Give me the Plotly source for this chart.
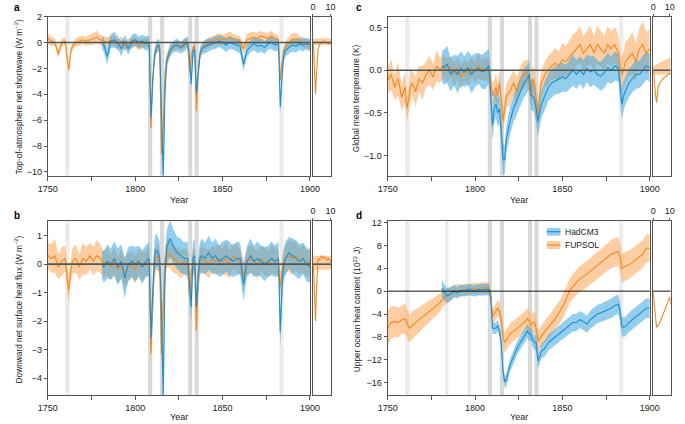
import plotly.graph_objects as go

# ---------------- data ----------------
YEARS_F = [1750,1752,1754,1756,1758,1760,1761,1762,1763,1764,
           1766,1768,1770,1772,1774,1776,1778,1780,1782,1784,
           1786,1788,1790,1792,1794,1796,1798,1800,1802,1804,
           1806,1808,1809,1810,1811,1812,1813,1814,1815,1816,
           1817,1818,1820,1822,1824,1826,1828,1830,1831,1832,
           1833,1834,1835,1836,1837,1838,1840,1842,1844,1846,
           1848,1850,1852,1854,1856,1858,1860,1862,1864,1866,
           1868,1870,1872,1874,1876,1878,1880,1882,1883,1884,
           1885,1886,1888,1890,1892,1894,1896,1898,1900]
YEARS_H = [1781,1782,1784,1786,1788,1790,1792,1794,1796,1798,
           1800,1802,1804,1806,1808,1809,1810,1811,1812,1813,
           1814,1815,1816,1817,1818,1820,1822,1824,1826,1828,
           1830,1831,1832,1833,1834,1835,1836,1837,1838,1840,
           1842,1844,1846,1848,1850,1852,1854,1856,1858,1860,
           1862,1864,1866,1868,1870,1872,1874,1876,1878,1880,
           1882,1883,1884,1885,1886,1888,1890,1892,1894,1896,
           1898,1900]

# (a) TOA net shortwave
SW_FUPSOL = [0.3,0.1,0.0,-0.9,0.0,0.1,-1.2,-2.1,-0.8,-0.3,
             0.0,0.1,0.2,0.1,0.2,0.3,0.4,0.2,0.1,0.0,
             0.2,0.1,-0.2,0.1,-0.3,0.0,-0.1,0.1,-0.2,-0.1,
             0.0,0.0,-6.6,-3.0,-1.2,-0.6,-0.3,-0.5,-8.6,-6.5,
             -2.5,-1.2,-0.6,-0.3,-0.2,-0.3,-0.1,0.0,-2.3,-1.2,
             -0.4,-0.3,-5.3,-2.5,-1.0,-0.5,-0.2,0.0,0.1,0.2,
             0.3,0.2,0.3,0.4,0.3,0.2,0.1,-0.5,0.2,0.3,
             0.4,0.3,0.5,0.4,0.3,0.5,0.3,0.2,-2.9,-1.5,
             -0.6,-0.3,0.0,0.2,0.3,0.1,0.0,-0.1,-0.2]
SW_FUPSOL_HW = [0.4,0.35,0.3,0.35,0.3,0.3,0.35,0.4,0.35,0.3,
                0.3,0.35,0.3,0.35,0.4,0.45,0.5,0.4,0.35,0.4,
                0.35,0.4,0.45,0.35,0.4,0.35,0.4,0.35,0.4,0.35,
                0.35,0.4,0.45,0.4,0.35,0.35,0.3,0.35,0.45,0.4,
                0.4,0.35,0.35,0.3,0.35,0.3,0.35,0.35,0.4,0.35,
                0.35,0.3,0.4,0.35,0.35,0.3,0.35,0.4,0.35,0.4,
                0.45,0.35,0.4,0.45,0.35,0.4,0.35,0.4,0.45,0.5,
                0.4,0.45,0.4,0.35,0.45,0.4,0.35,0.4,0.4,0.35,
                0.35,0.4,0.45,0.5,0.45,0.4,0.4,0.35,0.35]
SW_HAD = [0.0,-0.2,-1.1,0.1,0.2,0.0,-0.5,0.1,-0.5,0.1,
          0.2,0.0,0.1,-0.1,0.0,-5.8,-3.0,-1.0,-0.4,-0.2,
          -0.3,-5.0,-10.3,-4.0,-1.5,-0.6,-0.3,-0.2,-0.4,-0.2,
          0.0,-1.0,-3.2,-0.8,-0.5,-3.9,-2.0,-0.9,-0.5,-0.3,
          -0.2,-0.1,0.0,0.1,0.0,-0.2,0.0,-0.1,-0.2,-0.3,
          -1.7,-0.6,-0.3,-0.1,-0.3,-0.2,-0.4,-0.1,0.0,-0.2,
          -0.1,-5.0,-2.6,-1.0,-0.6,-0.4,-0.2,-0.3,-0.1,-0.2,
          -0.1,-0.2]
SW_HAD_HW = [0.5,0.55,0.6,0.55,0.6,0.5,0.55,0.5,0.45,0.5,
             0.5,0.45,0.5,0.55,0.5,0.5,0.45,0.5,0.45,0.5,
             0.45,0.5,0.5,0.5,0.45,0.5,0.45,0.5,0.45,0.5,
             0.45,0.5,0.5,0.45,0.5,0.5,0.45,0.5,0.45,0.5,
             0.5,0.45,0.5,0.45,0.5,0.55,0.5,0.45,0.5,0.55,
             0.5,0.5,0.45,0.5,0.55,0.5,0.5,0.45,0.5,0.5,
             0.5,0.5,0.5,0.45,0.5,0.45,0.5,0.5,0.45,0.5,
             0.45,0.5]

# (b) downward net surface heat flux
SF_FUPSOL = [0.3,0.2,0.3,-0.1,0.1,0.2,-0.5,-0.9,-0.3,0.1,
             0.2,-0.1,0.2,0.1,0.3,0.1,0.3,0.2,0.0,0.1,
             -0.1,0.1,-0.2,0.0,-0.3,-0.1,0.0,-0.2,0.1,-0.1,
             0.0,0.1,-3.15,-1.2,0.0,0.2,0.3,0.0,-3.15,-1.5,
             0.2,0.4,0.3,0.2,0.1,0.0,0.1,0.0,-1.1,-0.3,
             0.1,0.0,-2.35,-0.6,0.1,0.2,0.1,0.0,0.2,0.1,
             0.2,0.1,0.2,0.0,0.3,0.2,0.1,-0.4,0.1,0.2,
             0.1,0.0,0.2,0.1,0.0,0.2,0.1,0.0,-0.8,-0.2,
             0.1,0.2,0.3,0.2,0.3,0.1,0.2,0.0,0.1]
SF_FUPSOL_HW = [0.45,0.5,0.6,0.45,0.5,0.45,0.5,0.45,0.4,0.45,
                0.5,0.45,0.55,0.5,0.45,0.5,0.55,0.5,0.45,0.5,
                0.45,0.5,0.45,0.5,0.55,0.5,0.45,0.5,0.45,0.5,
                0.45,0.5,0.5,0.45,0.5,0.45,0.5,0.45,0.5,0.5,
                0.45,0.5,0.45,0.5,0.45,0.5,0.45,0.5,0.45,0.5,
                0.45,0.5,0.45,0.5,0.45,0.5,0.45,0.5,0.45,0.5,
                0.5,0.45,0.6,0.5,0.45,0.5,0.45,0.5,0.45,0.5,
                0.45,0.5,0.45,0.5,0.45,0.5,0.45,0.5,0.45,0.5,
                0.45,0.5,0.55,0.6,0.5,0.45,0.5,0.45,0.5]
SF_HAD = [0.0,-0.1,0.1,0.0,0.2,-0.1,0.1,-0.5,0.0,0.1,
          0.0,0.1,-0.1,0.1,0.2,-2.6,-1.0,0.3,0.5,0.4,
          0.2,-1.5,-4.6,-0.5,0.6,0.9,0.6,0.4,0.3,0.2,
          0.2,-0.6,-1.5,0.2,0.3,-1.5,-0.4,0.2,0.3,0.2,
          0.4,0.2,0.3,0.1,0.2,0.3,0.2,0.1,0.2,0.2,
          -0.7,0.1,0.3,0.1,0.2,0.1,0.0,0.1,0.2,0.1,
          0.2,-2.4,-0.8,0.0,0.2,0.4,0.3,0.2,0.1,0.2,
          0.0,-0.1]
SF_HAD_HW = [0.5,0.55,0.6,0.55,0.6,0.65,0.6,0.7,0.6,0.55,
             0.6,0.55,0.6,0.55,0.6,0.55,0.6,0.55,0.6,0.55,
             0.6,0.55,0.6,0.55,0.6,0.65,0.6,0.55,0.6,0.55,
             0.6,0.55,0.6,0.55,0.6,0.55,0.6,0.55,0.6,0.55,
             0.6,0.55,0.6,0.55,0.6,0.55,0.6,0.55,0.6,0.55,
             0.6,0.55,0.6,0.55,0.6,0.55,0.6,0.55,0.6,0.55,
             0.6,0.55,0.6,0.55,0.6,0.55,0.6,0.65,0.6,0.55,
             0.6,0.55]

# (c) global mean temperature
T_FUPSOL = [-0.12,-0.05,-0.2,-0.1,-0.32,-0.2,-0.45,-0.35,-0.2,-0.15,
            -0.25,-0.1,-0.15,-0.05,0.0,-0.08,0.05,0.0,0.05,0.0,
            0.04,-0.05,0.02,-0.08,0.0,-0.05,0.03,-0.02,0.05,0.0,
            0.02,0.0,-0.15,-0.3,-0.25,-0.2,-0.3,-0.15,-0.35,-0.6,
            -0.45,-0.3,-0.25,-0.15,-0.25,-0.1,-0.05,-0.02,-0.15,-0.3,
            -0.1,-0.15,-0.35,-0.55,-0.3,-0.15,-0.05,0.0,0.05,0.08,
            0.05,0.12,0.1,0.15,0.2,0.25,0.3,0.2,0.25,0.3,
            0.2,0.3,0.25,0.2,0.3,0.25,0.3,0.2,0.05,-0.05,
            0.0,0.1,0.15,0.2,0.1,0.25,0.3,0.2,0.25]
T_FUPSOL_HW = [0.15,0.18,0.15,0.2,0.15,0.18,0.15,0.17,0.2,0.15,
               0.18,0.15,0.2,0.15,0.17,0.15,0.18,0.15,0.13,0.15,
               0.12,0.15,0.13,0.15,0.12,0.14,0.12,0.13,0.15,0.12,
               0.14,0.13,0.15,0.15,0.14,0.16,0.15,0.14,0.16,0.15,
               0.15,0.14,0.16,0.15,0.17,0.15,0.16,0.15,0.16,0.15,
               0.16,0.15,0.17,0.16,0.15,0.16,0.15,0.17,0.16,0.18,
               0.17,0.2,0.18,0.2,0.22,0.2,0.22,0.2,0.21,0.22,
               0.2,0.22,0.21,0.2,0.22,0.2,0.21,0.22,0.2,0.2,
               0.21,0.23,0.22,0.25,0.22,0.24,0.28,0.25,0.23]
T_HAD = [0.05,0.03,0.07,-0.05,0.0,-0.05,0.02,-0.02,0.03,-0.05,
         0.0,0.02,-0.02,0.0,0.05,-0.3,-0.65,-0.45,-0.4,-0.5,
         -0.45,-0.7,-1.05,-1.05,-0.8,-0.6,-0.45,-0.35,-0.25,-0.15,
         -0.1,-0.05,-0.3,-0.3,-0.35,-0.45,-0.6,-0.5,-0.4,-0.3,
         -0.2,-0.15,-0.12,-0.1,-0.08,-0.1,-0.05,0.0,-0.05,0.0,
         -0.05,0.02,-0.02,0.0,-0.05,-0.07,-0.03,0.03,0.0,0.05,
         0.03,-0.2,-0.4,-0.3,-0.25,-0.15,-0.1,-0.05,-0.05,0.0,
         0.05,0.03]
T_HAD_HW = [0.18,0.2,0.22,0.2,0.18,0.22,0.2,0.18,0.2,0.22,
            0.2,0.18,0.2,0.22,0.2,0.2,0.18,0.17,0.16,0.17,
            0.16,0.17,0.18,0.17,0.16,0.17,0.16,0.17,0.16,0.17,
            0.16,0.17,0.18,0.17,0.16,0.17,0.18,0.17,0.16,0.17,
            0.16,0.17,0.16,0.18,0.17,0.16,0.17,0.18,0.17,0.16,
            0.17,0.16,0.18,0.17,0.16,0.17,0.18,0.17,0.16,0.17,
            0.16,0.17,0.18,0.17,0.16,0.17,0.16,0.17,0.16,0.17,
            0.16,0.17]

# (d) upper ocean heat content (10^22 J)
OHC_FUPSOL = [-6.5,-5.5,-5.3,-5.5,-5.0,-4.8,-5.5,-6.3,-6.5,-6.0,
              -5.5,-5.0,-4.5,-4.0,-3.5,-3.0,-2.5,-2.0,-1.2,-0.8,
              -0.5,0.0,0.2,0.0,0.3,0.2,0.4,0.5,0.3,0.6,
              0.5,0.6,-0.5,-4.5,-4.0,-3.5,-3.0,-3.5,-5.0,-8.0,
              -9.0,-8.5,-7.5,-7.0,-6.5,-6.0,-5.5,-4.8,-5.2,-6.0,
              -5.5,-5.5,-6.5,-8.8,-8.3,-7.8,-7.0,-6.3,-5.6,-4.8,
              -3.8,-2.8,-1.5,0.0,0.8,1.5,2.2,2.5,3.0,3.5,
              4.0,4.5,5.0,5.5,6.0,6.5,6.7,7.0,6.0,4.0,
              4.2,4.3,4.6,5.0,5.5,6.0,6.5,7.5,7.5]
OHC_FUPSOL_HW = [3.0,2.8,2.7,2.6,2.5,2.6,2.5,2.5,2.4,2.4,
                 2.3,2.2,2.1,2.0,1.9,1.8,1.7,1.6,1.4,1.3,
                 1.2,1.1,1.1,1.0,1.0,1.0,1.0,1.0,1.0,1.0,
                 1.0,1.0,1.1,1.3,1.4,1.5,1.5,1.5,1.6,1.7,
                 1.8,1.8,1.8,1.8,1.8,1.8,1.8,1.8,1.8,1.8,
                 1.8,1.8,1.8,1.8,1.8,1.8,1.9,1.9,2.0,2.0,
                 2.0,2.1,2.1,2.1,2.2,2.2,2.2,2.3,2.3,2.3,
                 2.3,2.4,2.4,2.4,2.4,2.5,2.5,2.5,2.5,2.5,
                 2.5,2.5,2.5,2.5,2.5,2.4,2.4,2.4,2.4]
OHC_HAD = [0.5,0.0,-0.8,-0.5,0.0,-0.3,0.2,0.0,0.3,0.2,
           0.0,0.3,0.2,0.3,0.3,-1.0,-6.5,-6.5,-6.5,-6.0,
           -7.0,-9.0,-14.0,-15.9,-15.5,-13.0,-11.5,-10.0,-9.0,-8.0,
           -7.0,-7.5,-7.5,-8.5,-9.0,-9.0,-12.2,-11.5,-10.5,-10.0,
           -9.0,-8.5,-8.0,-7.5,-7.0,-6.5,-6.0,-5.5,-5.5,-5.0,
           -5.3,-5.8,-5.0,-4.5,-4.0,-3.8,-3.5,-3.3,-3.0,-2.5,
           -2.3,-3.5,-6.2,-6.3,-6.2,-5.5,-5.0,-4.5,-4.0,-3.5,
           -3.0,-3.0]
OHC_HAD_HW = [1.5,1.4,1.3,1.2,1.1,1.0,1.0,1.0,1.0,1.0,
              1.0,1.0,1.0,1.0,1.0,1.0,1.0,1.0,1.0,1.0,
              1.0,1.0,1.0,1.1,1.1,1.1,1.2,1.2,1.2,1.2,
              1.2,1.2,1.2,1.3,1.3,1.3,1.3,1.3,1.3,1.4,
              1.4,1.4,1.4,1.4,1.5,1.5,1.5,1.5,1.5,1.5,
              1.5,1.5,1.6,1.6,1.6,1.6,1.6,1.6,1.7,1.7,
              1.7,1.7,1.7,1.7,1.7,1.7,1.7,1.7,1.7,1.7,
              1.7,1.7]

# insets: composite response, years after eruption (FUPSOL)
INSET_X = [0,0.5,1,1.5,2,2.5,3,4,5,6,7,8,9,10,10.5]
SW_INSET = [0,-0.5,-2.5,-4.0,-2.5,-1.2,-0.5,-0.1,0.0,0.1,0.0,0.0,-0.1,-0.1,-0.1]
SW_INSET_LO = [-0.2,-0.2,-0.25,-0.2,-0.2,-0.25,-0.2,-0.2,-0.25,-0.2,-0.2,-0.2,-0.25,-0.2,-0.2]
SW_INSET_HI = [0.3,0.3,0.25,0.3,0.3,0.3,0.25,0.3,0.3,0.35,0.3,0.3,0.3,0.35,0.3]
SF_INSET = [0,-0.3,-1.2,-2.0,-1.0,0.0,0.2,0.15,0.3,0.2,0.25,0.15,0.2,0.1,0.05]
SF_INSET_LO = [-0.2,-0.2,-0.2,-0.2,-0.2,-0.2,-0.2,-0.2,-0.2,-0.2,-0.2,-0.2,-0.2,-0.2,-0.2]
SF_INSET_HI = [0.3,0.3,0.3,0.3,0.3,0.3,0.3,0.3,0.3,0.3,0.3,0.3,0.3,0.3,0.3]
T_INSET = [0,-0.05,-0.2,-0.33,-0.38,-0.3,-0.2,-0.15,-0.12,-0.1,-0.08,-0.07,-0.05,-0.04,-0.03]
T_INSET_LO = [-0.05,-0.05,-0.05,-0.05,-0.05,-0.05,-0.05,-0.05,-0.05,-0.05,-0.05,-0.05,-0.05,-0.05,-0.05]
T_INSET_HI = [0.05,0.05,0.06,0.06,0.07,0.07,0.08,0.09,0.1,0.11,0.12,0.13,0.14,0.15,0.15]
OHC_INSET = [0,-1.5,-3.5,-5.5,-6.3,-6.2,-6.0,-5.5,-4.8,-4.0,-3.3,-2.5,-1.5,-1.0,-2.3]

# volcanic eruption bands
ERUPT_START = [1760.0, 1782.8, 1795.7, 1807.3, 1814.2, 1830.3, 1834.0, 1882.5]
ERUPT_END   = [1762.4, 1784.8, 1797.8, 1809.7, 1816.6, 1832.6, 1836.3, 1884.9]
ERUPT_STRONG = [False, False, False, True, True, True, True, False]
ERUPT_IN_ALL = [True, False, False, True, True, True, True, True]

X_TICKS = [1750, 1800, 1850, 1900]
X_MINOR_TICKS = [1775, 1825, 1875]

# ---------------- styling ----------------
W, H = 685, 424
FONT = 'Liberation Sans, Arial, sans-serif'
BLUE = '#1a8fd0'
ORANGE = '#f08a1e'
BLUE_BAND = 'rgba(60,165,225,0.55)'
ORANGE_BAND = 'rgba(253,172,98,0.6)'
AX = '#555555'
TXT = '#222222'

def px_x(p):
    return p / W

def px_y(p):
    return 1 - p / H

XM_L = [px_x(39), px_x(309)]
XI_L = [px_x(312), px_x(331)]
XM_R = [px_x(389), px_x(659)]
XI_R = [px_x(662.5), px_x(680.5)]
Y_TOP = [px_y(173.3), px_y(11.7)]
Y_BOT = [px_y(395.7), px_y(219)]

panels = [
    dict(main=1, inset=5, xd=XM_L, xi=XI_L, yd=Y_TOP, yr=[-10.3, 2.0],
         yt=[2, 0, -2, -4, -6, -8, -10], ytt=None,
         f=SW_FUPSOL, fhw=SW_FUPSOL_HW, h=SW_HAD, hhw=SW_HAD_HW,
         ins=SW_INSET, ilo=SW_INSET_LO, ihi=SW_INSET_HI, all_bands=False,
         zc=AX, zw=1.6),
    dict(main=2, inset=6, xd=XM_L, xi=XI_L, yd=Y_BOT, yr=[-4.6, 1.52],
         yt=[1, 0, -1, -2, -3, -4], ytt=None,
         f=SF_FUPSOL, fhw=SF_FUPSOL_HW, h=SF_HAD, hhw=SF_HAD_HW,
         ins=SF_INSET, ilo=SF_INSET_LO, ihi=SF_INSET_HI, all_bands=False,
         zc=AX, zw=1.6),
    dict(main=3, inset=7, xd=XM_R, xi=XI_R, yd=Y_TOP, yr=[-1.24, 0.63],
         yt=[0.5, 0, -0.5, -1.0], ytt=['0.5', '0.0', '\u22120.5', '\u22121.0'],
         f=T_FUPSOL, fhw=T_FUPSOL_HW, h=T_HAD, hhw=T_HAD_HW,
         ins=T_INSET, ilo=T_INSET_LO, ihi=T_INSET_HI, all_bands=False,
         zc=AX, zw=1.6),
    dict(main=4, inset=8, xd=XM_R, xi=XI_R, yd=Y_BOT, yr=[-18.2, 12.3],
         yt=[12, 8, 4, 0, -4, -8, -12, -16], ytt=None,
         f=OHC_FUPSOL, fhw=OHC_FUPSOL_HW, h=OHC_HAD, hhw=OHC_HAD_HW,
         ins=OHC_INSET, ilo=None, ihi=None, all_bands=True,
         zc='#111111', zw=1.0),
]

fig = go.Figure()
shapes = []

def ax_name(i, kind):
    return kind if i == 1 else f'{kind}{i}'

def band_trace(xs, lo, hi, color, xa, ya):
    return go.Scatter(x=list(xs) + list(xs)[::-1], y=list(hi) + list(lo)[::-1],
                      fill='toself', fillcolor=color, mode='lines',
                      line=dict(width=0), hoverinfo='skip', showlegend=False,
                      xaxis=xa, yaxis=ya)

layout_axes = {}
for p in panels:
    m, i = p['main'], p['inset']
    xa, ya = ax_name(m, 'x'), ax_name(m, 'y')
    xi, yi = ax_name(i, 'x'), ax_name(i, 'y')
    assert len(p['f']) == len(YEARS_F) == len(p['fhw'])
    assert len(p['h']) == len(YEARS_H) == len(p['hhw'])

    f_lo = [v - w for v, w in zip(p['f'], p['fhw'])]
    f_hi = [v + w for v, w in zip(p['f'], p['fhw'])]
    h_lo = [v - w for v, w in zip(p['h'], p['hhw'])]
    h_hi = [v + w for v, w in zip(p['h'], p['hhw'])]
    fig.add_trace(band_trace(YEARS_F, f_lo, f_hi, ORANGE_BAND, xa, ya))
    fig.add_trace(band_trace(YEARS_H, h_lo, h_hi, BLUE_BAND, xa, ya))
    fig.add_trace(go.Scatter(x=YEARS_F, y=p['f'], mode='lines',
                             line=dict(color=ORANGE, width=1.1),
                             hoverinfo='skip', showlegend=False, xaxis=xa, yaxis=ya))
    fig.add_trace(go.Scatter(x=YEARS_H, y=p['h'], mode='lines',
                             line=dict(color=BLUE, width=1.1),
                             hoverinfo='skip', showlegend=False, xaxis=xa, yaxis=ya))
    # inset
    if p['ilo'] is not None:
        fig.add_trace(band_trace(INSET_X, p['ilo'], p['ihi'], ORANGE_BAND, xi, yi))
    fig.add_trace(go.Scatter(x=INSET_X, y=p['ins'], mode='lines',
                             line=dict(color=ORANGE, width=1.1),
                             hoverinfo='skip', showlegend=False, xaxis=xi, yaxis=yi))

    # eruption bands
    for s, e, strong, inall in zip(ERUPT_START, ERUPT_END, ERUPT_STRONG, ERUPT_IN_ALL):
        if not inall and not p['all_bands']:
            continue
        shapes.append(dict(type='rect', xref=xa, yref=f'{ya} domain', x0=s, x1=e,
                           y0=0, y1=1, fillcolor='#d9d9d9' if strong else '#ebebeb',
                           line=dict(width=0), layer='below'))
    # zero lines
    for xr, yr in ((xa, ya), (xi, yi)):
        shapes.append(dict(type='line', xref=f'{xr} domain', yref=yr, x0=0, x1=1,
                           y0=0, y1=0, line=dict(color=p['zc'], width=p['zw']),
                           layer='above'))

    common = dict(showline=True, mirror=True, linecolor=AX, linewidth=1,
                  showgrid=False, zeroline=False, tickcolor=AX,
                  tickfont=dict(family=FONT, size=9, color=TXT))
    layout_axes['xaxis' if m == 1 else f'xaxis{m}'] = dict(
        common, domain=p['xd'], anchor=ya, range=[1750, 1900], tickmode='array',
        tickvals=X_TICKS, ticks='outside', ticklen=4,
        minor=dict(tickmode='array', tickvals=X_MINOR_TICKS, ticks='outside',
                   ticklen=4, tickcolor=AX, showgrid=False))
    layout_axes[f'yaxis{m}' if m != 1 else 'yaxis'] = dict(
        common, domain=p['yd'], anchor=xa, range=p['yr'], tickmode='array',
        tickvals=p['yt'], ticktext=p['ytt'] if p['ytt'] else None,
        ticks='outside', ticklen=3)
    layout_axes[f'xaxis{i}'] = dict(
        common, domain=p['xi'], anchor=yi, range=[0, 10.5], side='top',
        tickmode='array', tickvals=[0, 10], ticks='outside', ticklen=2)
    layout_axes[f'yaxis{i}'] = dict(
        common, domain=p['yd'], anchor=xi, range=p['yr'], showticklabels=False,
        ticks='')

# legend (panel d)
LEGEND_NAMES = ['HadCM3', 'FUPSOL']
legend_rows = [(226.0, 234.0, BLUE_BAND, BLUE), (239.5, 247.5, ORANGE_BAND, ORANGE)]
annotations = []
for name, (t, b, bc, lc) in zip(LEGEND_NAMES, legend_rows):
    shapes.append(dict(type='rect', xref='paper', yref='paper', x0=px_x(553), x1=px_x(567),
                       y0=px_y(b), y1=px_y(t), fillcolor=bc, line=dict(width=0), layer='above'))
    shapes.append(dict(type='line', xref='paper', yref='paper', x0=px_x(553), x1=px_x(567),
                       y0=px_y((t + b) / 2), y1=px_y((t + b) / 2),
                       line=dict(color=lc, width=1.2), layer='above'))
    annotations.append(dict(text=name, xref='paper', yref='paper', x=px_x(570),
                            y=px_y((t + b) / 2), xanchor='left', yanchor='middle',
                            showarrow=False, font=dict(family=FONT, size=8.5, color=TXT)))

# panel letters
for letter, x, y in (('a', 2, 3), ('b', 2, 214), ('c', 354, 3), ('d', 354, 214)):
    annotations.append(dict(text=f'<b>{letter}</b>', xref='paper', yref='paper',
                            x=px_x(x), y=px_y(y), xanchor='left', yanchor='middle',
                            showarrow=False, font=dict(family=FONT, size=10, color='#000')))

# axis titles
YTITLES = [('Top-of-atmosphere net shortwave (W m<sup>\u22122</sup>)', 8, 93),
           ('Downward net surface heat flux (W m<sup>\u22122</sup>)', 8, 309),
           ('Global mean temperature (K)', 356, 95),
           ('Upper ocean heat content (10<sup>22</sup> J)', 357, 309)]
for text, x, y in YTITLES:
    annotations.append(dict(text=text, xref='paper', yref='paper', x=px_x(x), y=px_y(y),
                            xanchor='center', yanchor='middle', textangle=-90,
                            showarrow=False, font=dict(family=FONT, size=8.3, color=TXT)))
for x, y in ((174, 198), (524, 198), (174, 418), (524, 418)):
    annotations.append(dict(text='Year', xref='paper', yref='paper', x=px_x(x), y=px_y(y),
                            xanchor='center', yanchor='middle', showarrow=False,
                            font=dict(family=FONT, size=9, color=TXT)))

fig.update_layout(width=W, height=H, margin=dict(l=0, r=0, t=0, b=0),
                  paper_bgcolor='white', plot_bgcolor='white', showlegend=False,
                  font=dict(family=FONT, size=9, color=TXT),
                  shapes=shapes, annotations=annotations, **layout_axes)

fig.write_html('out.html', config={'displayModeBar': False},
               post_script="document.body.style.margin='0';document.body.style.overflow='hidden';")
